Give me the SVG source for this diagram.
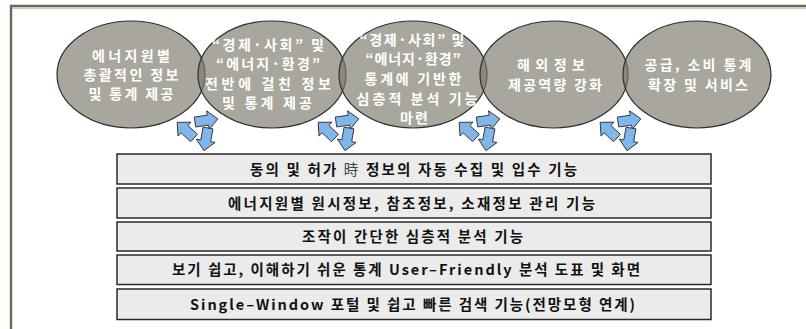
<svg xmlns="http://www.w3.org/2000/svg" width="806" height="329" viewBox="0 0 806 329">
<style>
  .frame { fill: none; stroke: #726a57; stroke-width: 2.5; }
  .ell { fill: #7c786b; fill-opacity: 0.66; stroke: #2e2e2e; stroke-width: 1.2; }
  .et { font-family: "Noto Sans CJK KR", "Noto Sans", sans-serif; font-size: 14px; font-weight: bold; fill: #ffffff; text-anchor: middle; }
  .box { fill: #ebebeb; stroke: #2a2a2a; stroke-width: 1.5; }
  .bt { font-family: "Noto Sans CJK KR", "Noto Sans", sans-serif; font-size: 14.5px; font-weight: bold; fill: #111111; text-anchor: middle; }
  .thin { font-weight: normal; fill: #444444; }
  .arw { fill: #80b6ea; stroke: #333333; stroke-width: 0.9; stroke-linejoin: round; }
</style>
<defs>
  <polygon id="ar" points="0,-5 13,-5 13,-9.5 23,0 13,9.5 13,5 0,5"/>
  <g id="cyc">
    <use href="#ar" class="arw" transform="translate(-5,6) rotate(223)"/>
    <use href="#ar" class="arw" transform="translate(-4,-10) rotate(-8)"/>
    <use href="#ar" class="arw" transform="translate(9,-4) rotate(100)"/>
  </g>
</defs>
<rect x="0" y="0" width="806" height="329" fill="#ffffff"/>
<path class="frame" d="M11,329 V6 H806"/>
<line x1="12.5" y1="8.2" x2="806" y2="8.2" stroke="#b4afa4" stroke-width="1"/>

<g id="e1">
  <ellipse class="ell" cx="131" cy="74.5" rx="74" ry="53.5"/>
  <text class="et" x="131" y="61" textLength="78" lengthAdjust="spacing">에너지원별</text>
  <text class="et" x="131" y="80" textLength="95" lengthAdjust="spacing">총괄적인 정보</text>
  <text class="et" x="131" y="99" textLength="85" lengthAdjust="spacing">및 통계 제공</text>
</g>
<g id="e2">
  <ellipse class="ell" cx="272" cy="74.5" rx="74" ry="53.5"/>
  <text class="et" x="268" y="50" textLength="112" lengthAdjust="spacing">“경제·사회” 및</text>
  <text class="et" x="268" y="69" textLength="104" lengthAdjust="spacing">“에너지·환경”</text>
  <text class="et" x="268" y="89" textLength="126" lengthAdjust="spacing">전반에 걸친 정보</text>
  <text class="et" x="267" y="108" textLength="90" lengthAdjust="spacing">및 통계 제공</text>
</g>
<g id="e3">
  <ellipse class="ell" cx="413" cy="74.5" rx="74" ry="53.5"/>
  <text class="et" x="412" y="45" textLength="105" lengthAdjust="spacing">“경제·사회” 및</text>
  <text class="et" x="413" y="64" textLength="95" lengthAdjust="spacing">“에너지·환경”</text>
  <text class="et" x="413" y="84" textLength="97" lengthAdjust="spacing">통계에 기반한</text>
  <text class="et" x="417" y="104" textLength="121" lengthAdjust="spacing">심층적 분석 기능</text>
  <text class="et" x="414" y="123" textLength="28" lengthAdjust="spacing">마련</text>
</g>
<g id="e4">
  <ellipse class="ell" cx="554" cy="74.5" rx="74" ry="53.5"/>
  <text class="et" x="551" y="70" textLength="68" lengthAdjust="spacing">해외정보</text>
  <text class="et" x="555" y="90" textLength="94" lengthAdjust="spacing">제공역량 강화</text>
</g>
<g id="e5">
  <ellipse class="ell" cx="697" cy="74.5" rx="74" ry="53.5"/>
  <text class="et" x="698" y="70" textLength="107" lengthAdjust="spacing">공급, 소비 통계</text>
  <text class="et" x="698" y="90" textLength="100" lengthAdjust="spacing">확장 및 서비스</text>
</g>

<g id="connectors">
  <use href="#cyc" transform="translate(199,132)"/>
  <use href="#cyc" transform="translate(340,132)"/>
  <use href="#cyc" transform="translate(481,132)"/>
  <use href="#cyc" transform="translate(622,132)"/>
</g>

<g id="r1">
  <rect class="box" x="117" y="154" width="594" height="30"/>
  <text class="bt" x="413.5" y="175" textLength="327" lengthAdjust="spacing">동의 및 허가 <tspan class="thin">時</tspan> 정보의 자동 수집 및 입수 기능</text>
</g>
<g id="r2">
  <rect class="box" x="117" y="188" width="594" height="30"/>
  <text class="bt" x="411.5" y="209" textLength="367" lengthAdjust="spacing">에너지원별 원시정보, 참조정보, 소재정보 관리 기능</text>
</g>
<g id="r3">
  <rect class="box" x="117" y="222" width="594" height="29"/>
  <text class="bt" x="412.5" y="242" textLength="221" lengthAdjust="spacing">조작이 간단한 심층적 분석 기능</text>
</g>
<g id="r4">
  <rect class="box" x="117" y="255" width="594" height="29.5"/>
  <text class="bt" x="406" y="275" textLength="468" lengthAdjust="spacing">보기 쉽고, 이해하기 쉬운 통계 User–Friendly 분석 도표 및 화면</text>
</g>
<g id="r5">
  <rect class="box" x="117" y="289" width="594" height="30.5"/>
  <text class="bt" x="412.5" y="310" textLength="445" lengthAdjust="spacing">Single–Window 포털 및 쉽고 빠른 검색 기능(전망모형 연계)</text>
</g>
</svg>
